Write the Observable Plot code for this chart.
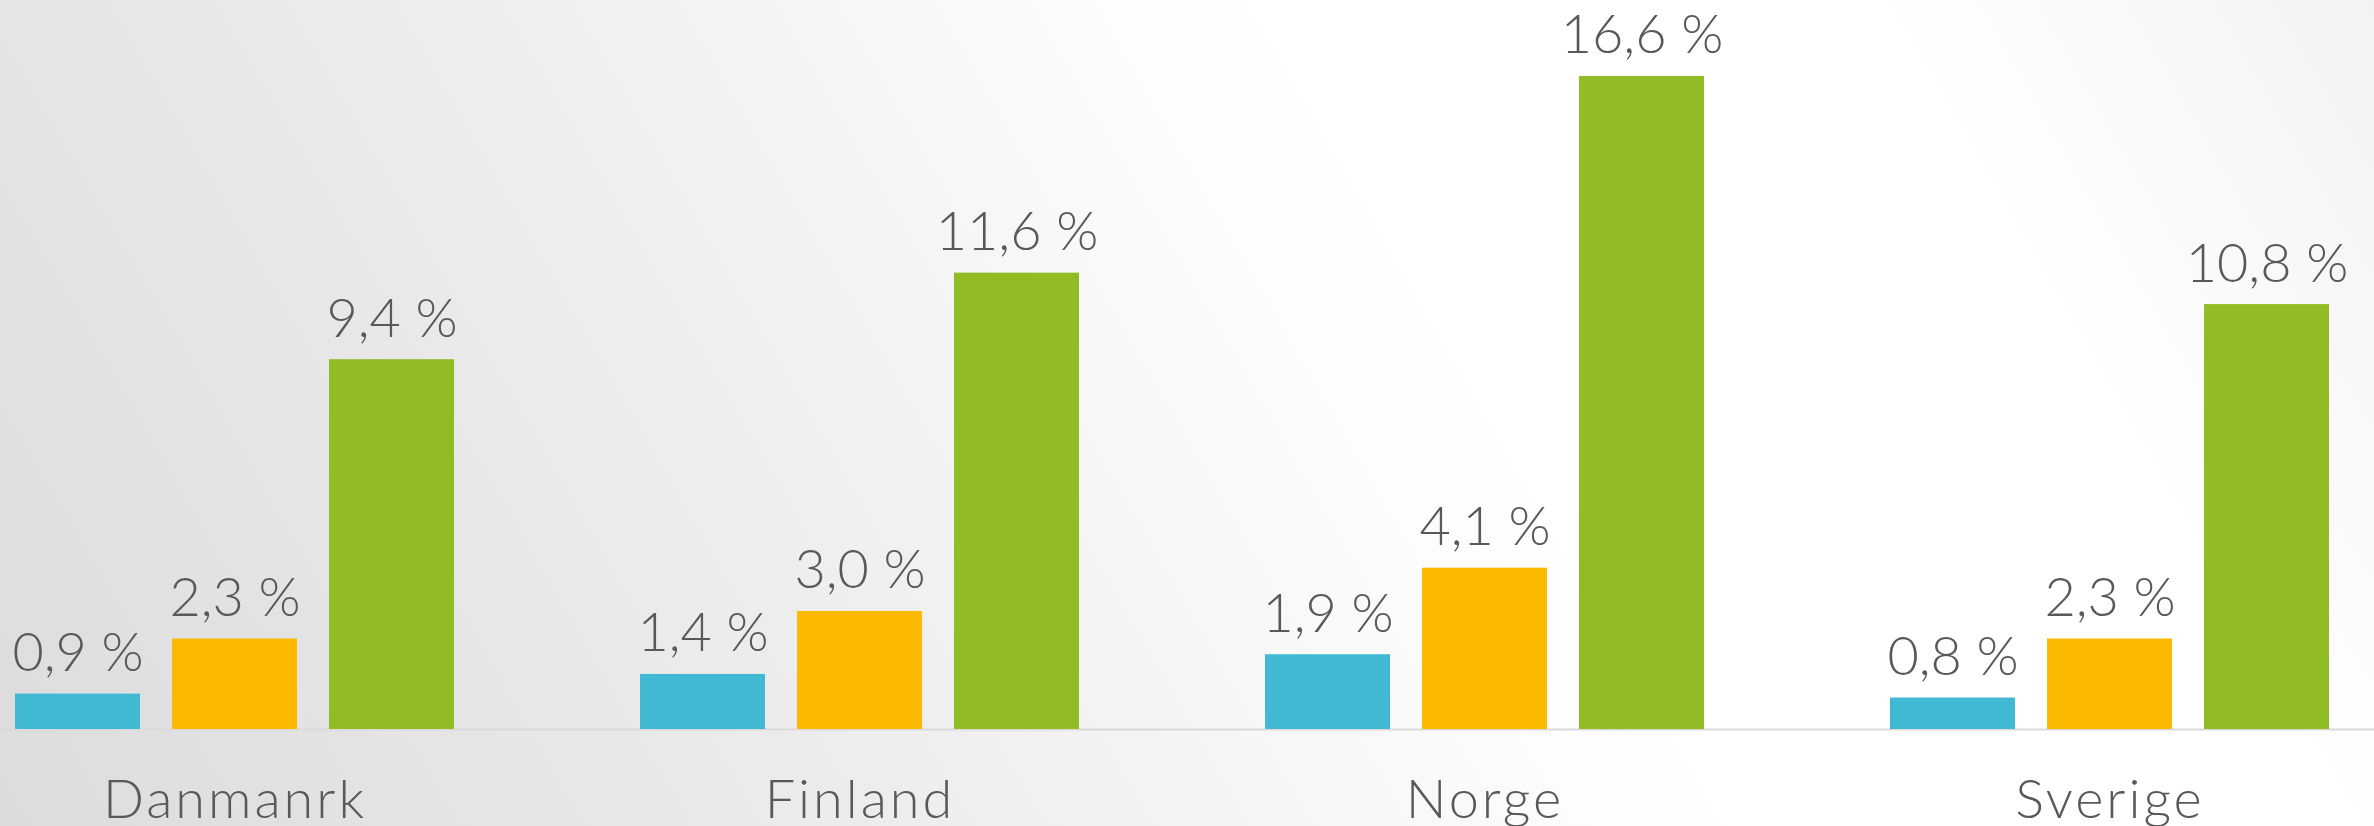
<!DOCTYPE html>
<html>
<head>
<meta charset="utf-8">
<script src="https://cdn.jsdelivr.net/npm/d3@7"></script>
<script src="https://cdn.jsdelivr.net/npm/@observablehq/plot@0.6"></script>
<style>
html, body { margin: 0; padding: 0; background: #ffffff; }
#chart svg { display: block; }
#chart svg g[aria-label="fx-axis tick label"] text { letter-spacing: 3px; }
</style>
</head>
<body>
<div id="chart"></div>
<script>
// Categories (label kept as in the original, including its spelling)
const countries = ["Danmanrk", "Finland", "Norge", "Sverige"];
// Three series (no legend in the original)
const seriesNames = ["Serie 1", "Serie 2", "Serie 3"];
const serie1 = [0.9, 1.4, 1.9, 0.8];
const serie2 = [2.3, 3.0, 4.1, 2.3];
const serie3 = [9.4, 11.6, 16.6, 10.8];
const seriesColors = ["#41B9D3", "#FBB900", "#92BC25"];

const seriesValues = [serie1, serie2, serie3];
const data = countries.flatMap((c, i) =>
  seriesNames.map((s, j) => ({country: c, series: s, value: seriesValues[j][i]}))
);
const fmt = v => v.toFixed(1).replace(".", ",") + " %";

const bg = "linear-gradient(60deg, #dcdcdc 0%, #e6e6e6 20%, #f2f2f2 40%, #fcfcfc 55%, #ffffff 62%, #ffffff 82%, #f2f2f2 100%)";

const chart = Plot.plot({
  width: 2374,
  height: 826,
  marginTop: 0,
  marginRight: 0,
  marginBottom: 97,
  marginLeft: 0,
  facetMarginTop: 0,
  facetMarginRight: 0,
  facetMarginBottom: 0,
  facetMarginLeft: 0,
  style: {background: bg, fontFamily: "Lato, 'Open Sans', sans-serif", fontWeight: 300, color: "#595959"},
  fx: {domain: countries, range: [-78.5, 2422.5], paddingInner: 0, paddingOuter: 0, axis: null, label: null},
  x: {domain: seriesNames, paddingInner: 0.204, paddingOuter: 0.592, axis: null},
  y: {domain: [0, 18.53], axis: null},
  color: {domain: seriesNames, range: seriesColors},
  marks: [
    Plot.ruleY([0], {stroke: "#d9d9d9", strokeWidth: 2}),
    Plot.barY(data, {fx: "country", x: "series", y: "value", fill: "series"}),
    Plot.text(data, {
      fx: "country", x: "series", y: "value",
      text: d => fmt(d.value),
      lineAnchor: "bottom", dy: -23,
      fontSize: 54, fontWeight: 300, fill: "#595959"
    }),
    Plot.axisFx({anchor: "bottom", tickSize: 0, tickPadding: 50, fontSize: 54, fontWeight: 300, color: "#595959", label: null})
  ]
});
document.getElementById("chart").appendChild(chart);
</script>
</body>
</html>
